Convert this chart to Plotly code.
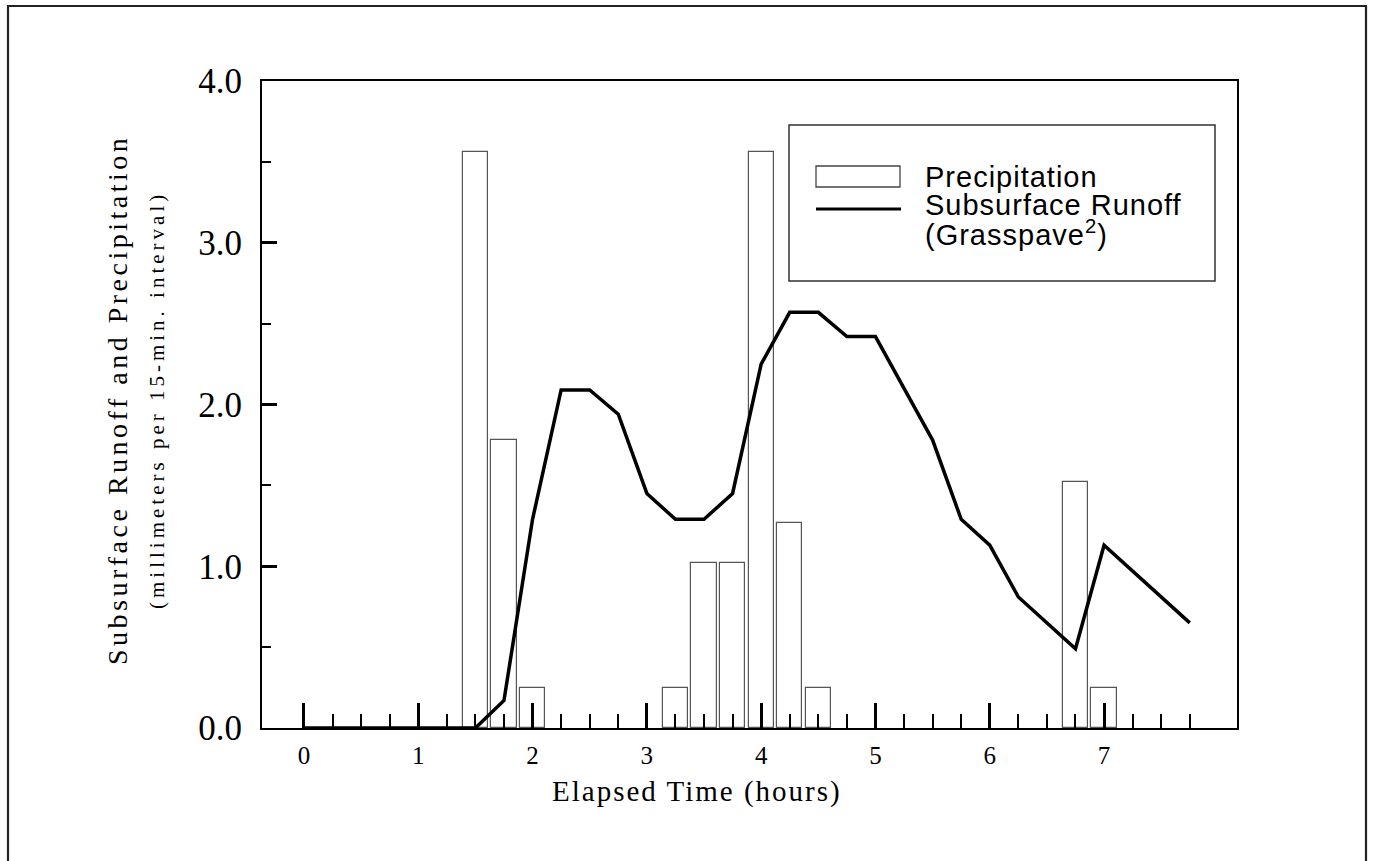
import plotly.graph_objects as go

# ---- data ----
precip_time = [1.5, 1.75, 2.0, 3.25, 3.5, 3.75, 4.0, 4.25, 4.5, 6.75, 7.0]
precip_mm = [3.56, 1.78, 0.25, 0.25, 1.02, 1.02, 3.56, 1.27, 0.25, 1.52, 0.25]

runoff_time = [0, 0.25, 0.5, 0.75, 1.0, 1.25, 1.5, 1.75, 2.0, 2.25, 2.5, 2.75,
               3.0, 3.25, 3.5, 3.75, 4.0, 4.25, 4.5, 4.75, 5.0, 5.25, 5.5, 5.75,
               6.0, 6.25, 6.5, 6.75, 7.0, 7.25, 7.5, 7.75]
runoff_mm = [0, 0, 0, 0, 0, 0, 0, 0.17, 1.29, 2.09, 2.09, 1.94,
             1.45, 1.29, 1.29, 1.45, 2.25, 2.57, 2.57, 2.42, 2.42, 2.10, 1.78, 1.29,
             1.13, 0.81, 0.65, 0.49, 1.13, 0.97, 0.81, 0.65]

x_ticks = [0, 1, 2, 3, 4, 5, 6, 7]
x_tick_labels = ["0", "1", "2", "3", "4", "5", "6", "7"]
y_ticks = [0, 1, 2, 3, 4]
y_tick_labels = ["0.0", "1.0", "2.0", "3.0", "4.0"]

x_title = "Elapsed Time (hours)"
y_title_1 = "Subsurface Runoff and Precipitation"
y_title_2 = "(millimeters per 15-min. interval)"
legend_labels = ["Precipitation", "Subsurface Runoff", "(Grasspave<sup>2</sup>)"]

# ---- layout geometry ----
W, H = 1376, 861
L, R, T, B = 262, 1237, 81, 728


def px(p):
    return (p - L) / (R - L)


def py(p):
    return (B - p) / (B - T)


SERIF = "Liberation Serif, Times New Roman, serif"
SANS = "Liberation Sans, Arial, sans-serif"

fig = go.Figure()
fig.add_trace(go.Bar(
    x=precip_time, y=precip_mm, width=0.22,
    marker=dict(color="white", line=dict(color="#555555", width=1.2)),
    showlegend=False, name="Precipitation",
))
fig.add_trace(go.Scatter(
    x=runoff_time, y=runoff_mm, mode="lines",
    line=dict(color="black", width=3.5), cliponaxis=False,
    showlegend=False, name="Subsurface Runoff",
))

minor_x = [i * 0.25 for i in range(32) if i % 4 != 0]
minor_y = [0.5, 1.5, 2.5, 3.5]

fig.update_xaxes(
    range=[-0.367, 8.163], showgrid=False, zeroline=False,
    showline=True, linecolor="black", linewidth=2, mirror=True,
    ticks="inside", tickmode="array", tickvals=x_ticks, ticktext=x_tick_labels,
    ticklen=25, tickwidth=2.5, tickcolor="black",
    tickfont=dict(family=SERIF, size=25, color="black"),
    ticklabelstandoff=4,
    minor=dict(tickmode="array", tickvals=minor_x, ticks="inside",
               ticklen=14, tickwidth=1.8, tickcolor="black", showgrid=False),
)
fig.update_yaxes(
    range=[0, 4], showgrid=False, zeroline=False,
    showline=True, linecolor="black", linewidth=2, mirror=True,
    ticks="inside", tickmode="array", tickvals=y_ticks, ticktext=y_tick_labels,
    ticklen=15, tickwidth=2.5, tickcolor="black",
    tickfont=dict(family=SERIF, size=35, color="black"),
    ticklabelstandoff=11,
    minor=dict(tickmode="array", tickvals=minor_y, ticks="inside",
               ticklen=9, tickwidth=1.8, tickcolor="black", showgrid=False),
)

shapes = [
    # outer frame
    dict(type="rect", xref="paper", yref="paper",
         x0=px(8), x1=px(1366), y0=py(900), y1=py(6),
         line=dict(color="#222222", width=2.2), fillcolor="rgba(0,0,0,0)"),
    # legend box
    dict(type="rect", xref="paper", yref="paper",
         x0=px(789), x1=px(1215), y0=py(281), y1=py(125),
         line=dict(color="#333333", width=1.5), fillcolor="white", layer="below"),
    # legend symbols
    dict(type="rect", xref="paper", yref="paper",
         x0=px(816), x1=px(900), y0=py(187), y1=py(166),
         line=dict(color="#444444", width=1.3), fillcolor="white"),
    dict(type="line", xref="paper", yref="paper",
         x0=px(816), x1=px(901), y0=py(209), y1=py(209),
         line=dict(color="black", width=3)),
]

annotations = [
    dict(text=f'<span style="letter-spacing:2px">{x_title}</span>',
         xref="paper", yref="paper", x=px(697), y=py(792),
         xanchor="center", yanchor="middle", showarrow=False,
         font=dict(family=SERIF, size=29, color="black")),
    dict(text=f'<span style="letter-spacing:3.5px">{y_title_1}</span>',
         xref="paper", yref="paper", x=px(117), y=py(400), textangle=-90,
         xanchor="center", yanchor="middle", showarrow=False,
         font=dict(family=SERIF, size=28, color="black")),
    dict(text=f'<span style="letter-spacing:4px">{y_title_2}</span>',
         xref="paper", yref="paper", x=px(157), y=py(400), textangle=-90,
         xanchor="center", yanchor="middle", showarrow=False,
         font=dict(family=SERIF, size=21, color="black")),
]
legend_y = [177, 205, 233]
for lab, yy in zip(legend_labels, legend_y):
    annotations.append(dict(
        text=f'<span style="letter-spacing:1px">{lab}</span>',
        xref="paper", yref="paper", x=px(923), y=py(yy),
        xanchor="left", yanchor="middle", showarrow=False,
        font=dict(family=SANS, size=29, color="black")))

fig.update_layout(
    width=W, height=H,
    margin=dict(l=L, r=W - R, t=T, b=H - B, pad=0),
    paper_bgcolor="white", plot_bgcolor="white",
    showlegend=False, bargap=0,
    shapes=shapes, annotations=annotations,
)

fig.write_html("out.html", config={"displayModeBar": False},
               post_script="document.body.style.margin='0px';")
